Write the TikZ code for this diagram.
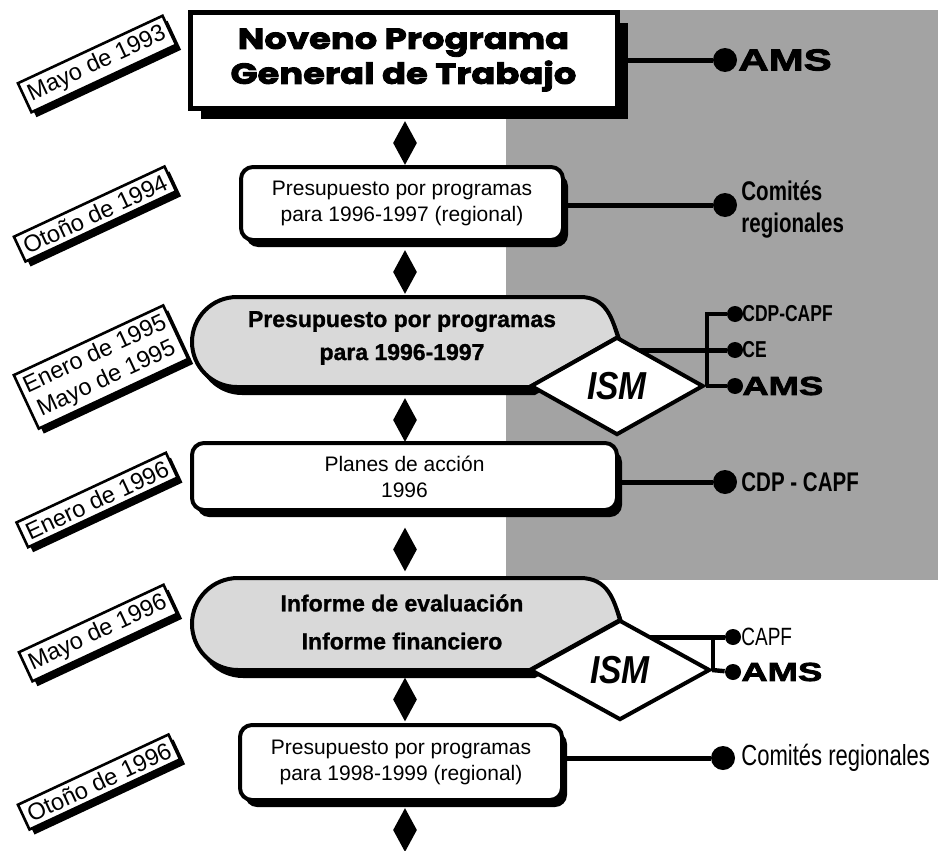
\documentclass[tikz,border=0pt]{standalone}
\usepackage{fontspec}
\setmainfont{Liberation Sans}
\newfontfamily\condfont{Liberation Sans}[FakeStretch=0.76]
\newfontfamily\ismfont{Liberation Sans}[FakeStretch=0.86]
\newfontfamily\heavyfont{Liberation Sans}[FakeStretch=1.4,FakeBold=3]
\newfontfamily\blackfont{Liberation Sans}[FakeBold=1.2]
\newfontfamily\titlefont{Poppins}[FakeBold=3,FakeStretch=1.22]
\usetikzlibrary{shapes.geometric,shadows}
\pgfdeclarelayer{bg}
\pgfsetlayers{bg,main}
\definecolor{bgray}{gray}{0.64}
\definecolor{lgray}{gray}{0.85}
\tikzset{
  shbox/.style={draw, line width=2pt, fill=white, rounded corners=6pt, align=center,
    inner sep=0pt, font=\fontsize{10.5}{13}\selectfont,
    drop shadow={shadow xshift=2.5pt, shadow yshift=-3.5pt, fill=black, opacity=1}},
  titlebox/.style={draw, line width=2.5pt, fill=white, align=center, inner sep=0pt,
    minimum width=213.5pt, minimum height=48pt,
    font=\titlefont\bfseries\fontsize{14.5}{17.5}\selectfont,
    drop shadow={shadow xshift=5.5pt, shadow yshift=-5.5pt, fill=black, opacity=1}},
  conn/.style={line width=2.5pt},
  thinconn/.style={line width=2.2pt},
  bigdot/.style={circle, fill=black, minimum size=12pt, inner sep=0pt},
  smalldot/.style={circle, fill=black, minimum size=8pt, inner sep=0pt},
  sdiam/.style={diamond, fill=black, minimum width=12pt, minimum height=22pt, inner sep=0pt},
  ism/.style={diamond, draw, line width=2pt, fill=white, inner sep=0pt,
    font=\ismfont\bfseries\itshape\fontsize{19.5}{19.5}\selectfont},
  datelbl/.style={draw, line width=1.3pt, fill=white, rotate=25, inner sep=2.5pt,
    font=\fontsize{11.8}{13.5}\selectfont, align=center,
    drop shadow={shadow xshift=2.5pt, shadow yshift=-2.5pt, fill=black, opacity=1}},
  rlbl/.style={anchor=west, inner sep=0pt, align=left},
  boldtext/.style={align=center, inner sep=0pt, font=\blackfont\bfseries\fontsize{11.5}{16.5}\selectfont},
}
\begin{document}
\begin{tikzpicture}[x=0.5pt,y=-0.5pt]
\useasboundingbox (0,0) rectangle (938,851);
\begin{pgfonlayer}{bg}
\fill[bgray] (506,10) rectangle (938,580);
\end{pgfonlayer}

% ---- main column ----
\node[titlebox] (n1) at (403.5,60) {Noveno Programa\\General de Trabajo};
\node[sdiam] (d1) at (405,143) {};
\node[shbox, minimum width=161pt, minimum height=36.5pt] (n2) at (402,203.5)
  {Presupuesto por programas\\para 1996-1997 (regional)};
\node[sdiam] (d2) at (405,272) {};

% box 3 (stadium, grey)
\fill[black, shift={(5,8)}] (530,387) -- (237,387) arc[start angle=270,end angle=90,radius=22.5pt]
  -- (580,297) .. controls (606,297) and (612,318) .. (618,337) -- cycle;
\draw[line width=2pt, fill=lgray] (530,387) -- (237,387) arc[start angle=270,end angle=90,radius=22.5pt]
  -- (580,297) .. controls (606,297) and (612,318) .. (618,337) -- cycle;
\node[boldtext] (n3) at (402,338) {Presupuesto por programas\\para 1996-1997};
\node[ism, minimum width=86.5pt, minimum height=49pt] (ism1) at (617,386) {ISM};

\node[sdiam] (d3) at (405,420) {};
\node[shbox, minimum width=212.5pt, minimum height=33.5pt] (n4) at (404.5,476.5)
  {Planes de acción\\1996};
\node[sdiam] (d4) at (405,549.5) {};

% box 5 (stadium, grey)
\fill[black, shift={(5,8)}] (530,670) -- (238,670) arc[start angle=270,end angle=90,radius=23pt]
  -- (580,578) .. controls (608,578) and (614,600) .. (620,620) -- cycle;
\draw[line width=2pt, fill=lgray] (530,670) -- (238,670) arc[start angle=270,end angle=90,radius=23pt]
  -- (580,578) .. controls (608,578) and (614,600) .. (620,620) -- cycle;
\node[boldtext, font=\blackfont\bfseries\fontsize{11.5}{19}\selectfont] (n5) at (402,622)
  {Informe de evaluación\\Informe financiero};
\node[ism, minimum width=90pt, minimum height=50pt] (ism2) at (620,670) {ISM};

\node[sdiam] (d5) at (405,699.5) {};
\node[shbox, minimum width=161pt, minimum height=37.5pt] (n6) at (401,762.5)
  {Presupuesto por programas\\para 1998-1999 (regional)};
\node[sdiam] (d6) at (405,830) {};

% ---- right side ----
\node[bigdot] (dA1) at (725,60) {};
\node[rlbl, font=\heavyfont\bfseries\fontsize{15}{15}\selectfont] (tA1) at (738,60) {AMS};
\draw[conn] (n1.east |- dA1) -- (dA1);

\node[bigdot] (dC1) at (725,205) {};
\node[rlbl, font=\condfont\bfseries\fontsize{13.5}{16}\selectfont] (tC1) at (741,209) {Comités\\regionales};
\draw[conn] (n2.east |- dC1) -- (dC1);

\node[smalldot] (dCDP) at (735,314) {};
\node[rlbl, font=\condfont\bfseries\fontsize{11.5}{11.5}\selectfont] (tCDP) at (742,314) {CDP-CAPF};
\node[smalldot] (dCE) at (735,350) {};
\node[rlbl, font=\condfont\bfseries\fontsize{11.5}{11.5}\selectfont] (tCE) at (742,350) {CE};
\node[smalldot] (dAMS2) at (735,386) {};
\node[rlbl, font=\heavyfont\bfseries\fontsize{13}{13}\selectfont] (tAMS2) at (742,386) {AMS};
\coordinate (b1) at (707,314);
\draw[thinconn] (ism1.east) -- (dAMS2);
\draw[thinconn] (dCDP) -- (b1) -- (b1 |- ism1.east);
\begin{pgfonlayer}{bg}
\draw[conn] (ism1.center |- dCE) -- (dCE);
\end{pgfonlayer}

\node[bigdot] (dD) at (725,482) {};
\node[rlbl, font=\condfont\bfseries\fontsize{13.5}{13.5}\selectfont] (tD) at (741,482) {CDP - CAPF};
\draw[conn] (n4.east |- dD) -- (dD);

\node[smalldot] (dCAPF) at (733,637) {};
\node[rlbl, font=\condfont\fontsize{12.5}{12.5}\selectfont] (tCAPF) at (741,637) {CAPF};
\node[smalldot] (dAMS3) at (733,672) {};
\node[rlbl, font=\heavyfont\bfseries\fontsize{13}{13}\selectfont] (tAMS3) at (741,672) {AMS};
\coordinate (b2) at (713,637);
\draw[thinconn] (ism2.east) -- (dAMS3);
\draw[thinconn] (b2) -- (b2 |- ism2.east);
\begin{pgfonlayer}{bg}
\draw[conn] (ism2.center |- dCAPF) -- (dCAPF);
\end{pgfonlayer}

\node[bigdot] (dE) at (723,758) {};
\node[rlbl, font=\condfont\fontsize{14.5}{14.5}\selectfont] (tE) at (741,758) {Comités regionales};
\draw[conn] (n6.east |- dE) -- (dE);

% ---- date labels ----
\node[datelbl] (L1) at (97,64) {Mayo de 1993};
\node[datelbl] (L2) at (95,214) {Otoño de 1994};
\node[datelbl] (L3) at (101,367) {Enero de 1995\\Mayo de 1995};
\node[datelbl] (L4) at (97,500) {Enero de 1996};
\node[datelbl] (L5) at (98,633) {Mayo de 1996};
\node[datelbl] (L6) at (99,782) {Otoño de 1996};
\end{tikzpicture}
\end{document}
